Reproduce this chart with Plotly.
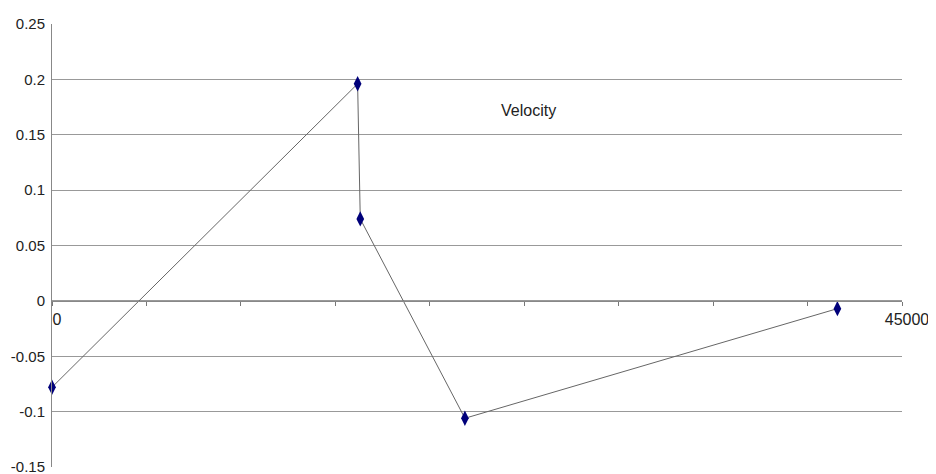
import plotly.graph_objects as go

# Data
time_vals = [0, 16180, 16320, 21860, 41580]
velocity = [-0.078, 0.196, 0.074, -0.106, -0.007]
series_name = "Velocity"

y_tickvals = [-0.15, -0.1, -0.05, 0, 0.05, 0.1, 0.15, 0.2, 0.25]
y_ticktext = ["-0.15", "-0.1", "-0.05", "0", "0.05", "0.1", "0.15", "0.2", "0.25"]
x_tickvals = [0, 5000, 10000, 15000, 20000, 25000, 30000, 35000, 40000, 45000]
x_ticktext = ["0", "", "", "", "", "", "", "", "", "45000"]

y_min, y_max = -0.15, 0.25

fig = go.Figure()
fig.add_trace(go.Scatter(
    x=time_vals, y=velocity, mode="lines+markers", name=series_name,
    line=dict(color="#666666", width=1),
    marker=dict(symbol="diamond-tall", size=11, color="#00007a",
                line=dict(width=0)),
    showlegend=False,
    cliponaxis=False,
))

fig.add_annotation(x=25200, y=0.172, text=series_name, showarrow=False,
                   font=dict(size=16, color="#222222"))

fig.update_layout(
    width=936, height=474,
    margin=dict(l=44, r=42, t=16, b=15, autoexpand=False),
    paper_bgcolor="white", plot_bgcolor="white",
    font=dict(family="Liberation Sans, Arial, sans-serif", size=16, color="#222222"),
    xaxis=dict(
        range=[0, 45000], anchor="free", automargin=False,
        position=(0 - y_min) / (y_max - y_min),
        tickmode="array", tickvals=x_tickvals, ticktext=x_ticktext,
        ticks="outside", ticklen=4, tickcolor="#777777", tickwidth=1,
        ticklabelshift=5, ticklabelstandoff=0,
        showline=True, linecolor="#888888", linewidth=1,
        showgrid=False, zeroline=False,
    ),
    yaxis=dict(
        range=[y_min, y_max], domain=[0, 1], automargin=False,
        tickmode="array", tickvals=y_tickvals, ticktext=y_ticktext,
        ticks="", ticklabelstandoff=3, tickfont=dict(size=15),
        showline=True, linecolor="#888888", linewidth=1,
        showgrid=True, gridcolor="#999999", gridwidth=1,
        zeroline=False,
    ),
)

fig.write_html("out.html")
